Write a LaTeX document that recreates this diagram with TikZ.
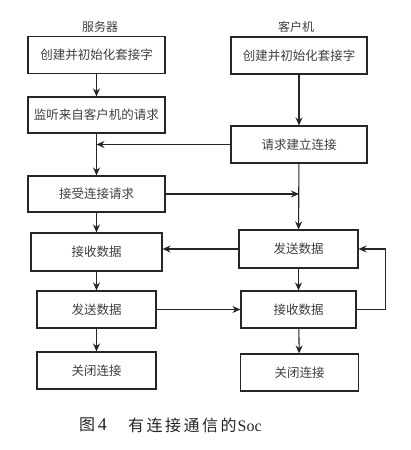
\documentclass[tikz,border=0pt]{standalone}
\usepackage{fontspec}
\setmainfont{Liberation Serif}
\newfontfamily\cjk{Noto Sans CJK SC}
\usetikzlibrary{arrows.meta,calc}
\begin{document}
\begin{tikzpicture}[x=1pt,y=-1pt,
  box/.style={draw=black!85,line width=1.1pt,minimum height=37pt,inner sep=0pt,
    font=\cjk\fontsize{12.5}{14}\selectfont,text=black!75},
  conn/.style={line width=1.1pt,draw=black!85},
  arr/.style={conn,-{Stealth[length=8pt,width=7pt]}},
  lbl/.style={font=\cjk\fontsize{12}{14}\selectfont,text=black!75,inner sep=0pt},
  captxt/.style={anchor=west,inner sep=0pt,font=\fontsize{16}{18}\selectfont,text=black!85}]
\useasboundingbox (0,0) rectangle (411,450);
\fill[white] (0,0) rectangle (411,450);
% labels
\node[lbl] (ls) at (100,27) {服务器};
\node[lbl] (lc) at (296,27) {客户机};
% server column
\node[box,minimum width=137pt] (s1) at (96.5,55) {创建并初始化套接字};
\node[box,minimum width=137pt,minimum height=36pt] (s2) at (96.5,115) {监听来自客户机的请求};
\node[box,minimum width=137pt,minimum height=36pt] (s3) at (96.5,194) {接受连接请求};
\node[box,minimum width=131pt,minimum height=38pt] (s4) at (96.5,252) {接收数据};
\node[box,minimum width=119pt] (s5) at (96.5,309.5) {发送数据};
\node[box,minimum width=119pt] (s6) at (96.5,370.5) {关闭连接};
% client column
\node[box,minimum width=136pt] (c1) at (299,55.5) {创建并初始化套接字};
\node[box,minimum width=136pt] (c2) at (299,144.5) {请求建立连接};
\node[box,minimum width=119pt,minimum height=38pt] (c3) at (298.5,249) {发送数据};
\node[box,minimum width=115pt] (c4) at (298.5,309.5) {接收数据};
\node[box,minimum width=118pt] (c5) at (299.5,372.5) {关闭连接};
% server flow
\draw[arr] (s1) -- (s2);
\draw[arr] (s2) -- (s3);
\draw[arr] (s3) -- (s4);
\draw[arr] (s4) -- (s5);
\draw[arr] (s5) -- (s6);
% client flow
\draw[arr] (c1) -- (c2);
\draw[arr] (c2) -- (c3);
\draw[arr] (c3) -- (c4);
\draw[arr] (c4) -- (c5);
% cross connections
\draw[arr] (c2.west) -- (s2.south |- c2.west);
\draw[arr] (s3.east) -- (c2.south |- s3.east);
\draw[arr] (c3.west) -- (s4.east |- c3.west);
\draw[arr] (s5.east) -- (c4.west |- s5.east);
\coordinate (lp) at ($(c4.east)+(29,0)$);
\draw[arr] (c4.east) -- (lp) |- (c3.east);
% caption
\node[captxt] (cap1) at (79,425) {{\cjk 图}\,\fontsize{18}{18}\selectfont 4};
\node[captxt] (cap2) at (128,425) {{\cjk 有\hspace{2.5pt}连\hspace{2.5pt}接\hspace{2.5pt}通\hspace{2.5pt}信\hspace{2.5pt}的}\hspace{1pt}Soc};
\end{tikzpicture}
\end{document}
